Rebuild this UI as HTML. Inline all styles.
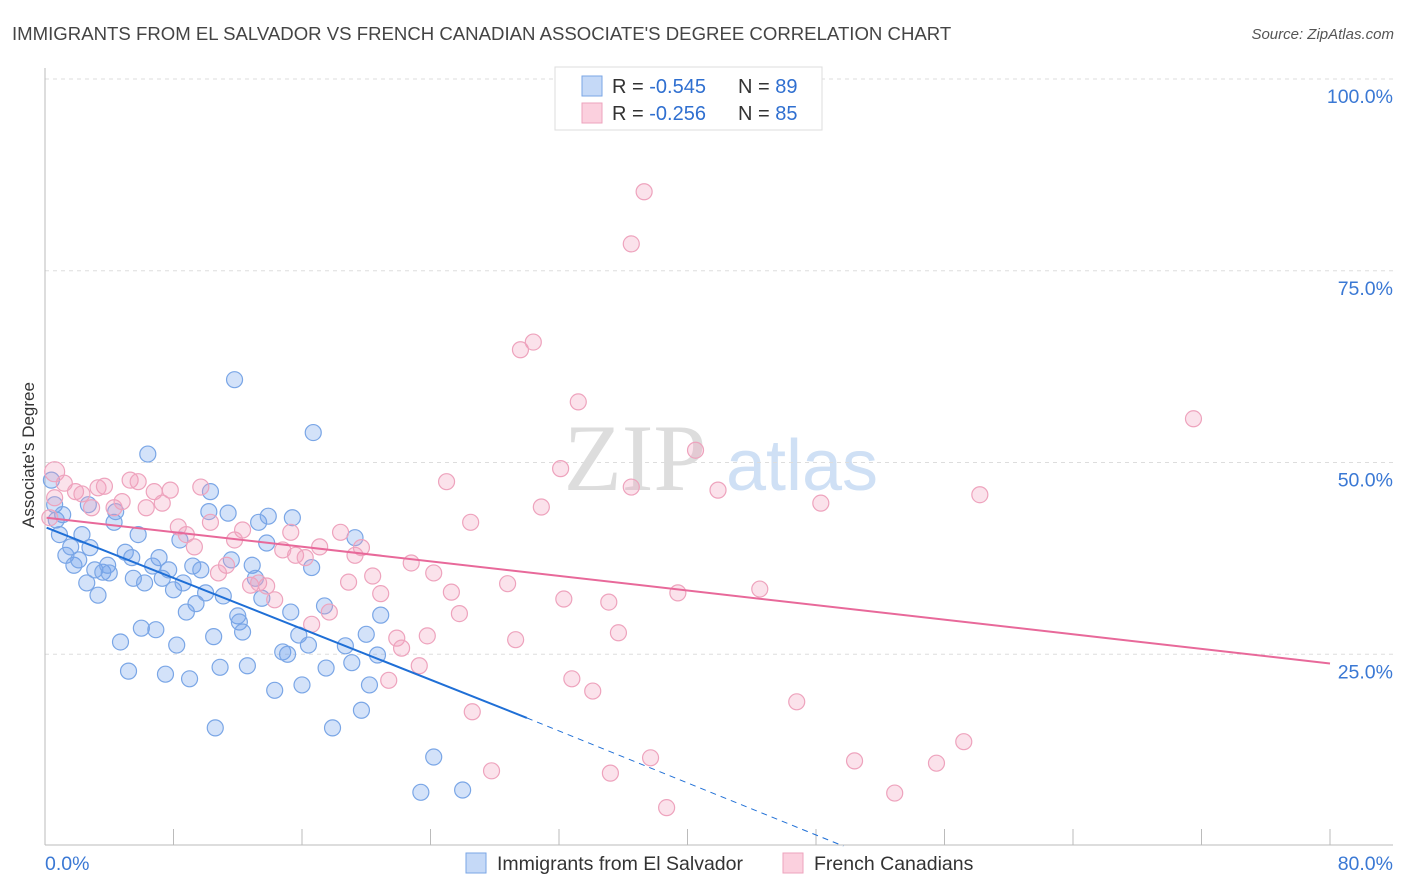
<!DOCTYPE html>
<html><head><meta charset="utf-8"><style>
body{margin:0;background:#fff;font-family:"Liberation Sans",sans-serif}
svg{display:block}
</style></head><body>
<svg id="chart" width="1406" height="892" xmlns="http://www.w3.org/2000/svg">
<text x="12" y="40" font-size="18.6" fill="#444" font-family="Liberation Sans">IMMIGRANTS FROM EL SALVADOR VS FRENCH CANADIAN ASSOCIATE'S DEGREE CORRELATION CHART</text>
<text x="1394" y="39" font-size="15" fill="#555" text-anchor="end" font-style="italic">Source: ZipAtlas.com</text>
<g>
<text x="635" y="490" font-size="95" fill="#ddd" font-family="Liberation Serif" text-anchor="middle">ZIP</text>
<text x="802" y="490" font-size="72" fill="#cfe0f5" text-anchor="middle">atlas</text>
</g>
<g id="grid"></g>
<g id="axes"></g>
<g id="marks"></g>
<text transform="translate(34,455) rotate(-90)" font-size="17" fill="#333" text-anchor="middle">Associate's Degree</text>
<g>
<rect x="555" y="67" width="267" height="63" fill="#fff" stroke="#ddd"/>
<rect x="582" y="76" width="20" height="20" fill="#c5d9f7" stroke="#7aa6e6"/>
<rect x="582" y="103" width="20" height="20" fill="#fbd0de" stroke="#eea3bd"/>
<text x="612" y="93" font-size="20" fill="#333">R = <tspan fill="#2f6fd0">-0.545</tspan></text>
<text x="738" y="93" font-size="20" fill="#333">N = <tspan fill="#2f6fd0">89</tspan></text>
<text x="612" y="120" font-size="20" fill="#333">R = <tspan fill="#2f6fd0">-0.256</tspan></text>
<text x="738" y="120" font-size="20" fill="#333">N = <tspan fill="#2f6fd0">85</tspan></text>
</g>
<g>
<rect x="466" y="853" width="20" height="20" fill="#c5d9f7" stroke="#7aa6e6"/>
<text x="497" y="870" font-size="19.5" fill="#333">Immigrants from El Salvador</text>
<rect x="783" y="853" width="20" height="20" fill="#fbd0de" stroke="#eea3bd"/>
<text x="814" y="870" font-size="19.5" fill="#333">French Canadians</text>
</g>
</svg>
<script>
const yTicks=[25,50,75,100];
const yTickLabels=["25.0%","50.0%","75.0%","100.0%"];
const xTickVals=[0,8,16,24,32,40,48,56,64,72,80];
const blueX=[0.4,0.6,0.7,0.9,1.1,1.3,1.6,1.8,2.1,2.3,2.6,2.8,3.1,3.3,3.6,3.9,4.0,2.7,4.3,4.4,4.7,5.0,5.2,5.4,5.5,5.8,6.0,6.2,6.4,6.7,6.9,7.1,7.3,7.5,7.7,8.0,8.2,8.4,8.6,8.8,9.0,9.2,9.4,9.7,10.0,10.2,10.3,10.5,10.6,10.9,11.1,11.4,11.6,11.8,12.0,12.1,12.3,12.6,12.9,13.1,13.3,13.5,13.8,13.9,14.3,14.8,15.1,15.3,15.4,15.8,16.0,16.4,16.6,16.7,17.4,17.5,17.9,18.7,19.1,19.3,19.7,20.0,20.2,20.7,20.9,24.2,23.4,26.0];
const blueY=[47.7,44.5,42.5,40.6,43.2,37.9,39.0,36.6,37.3,40.6,34.3,38.9,36.0,32.7,35.7,36.6,35.6,44.5,42.2,43.6,26.6,38.3,22.8,37.6,34.9,40.6,28.4,34.3,51.1,36.5,28.2,37.6,34.9,22.4,36.0,33.4,26.2,39.9,34.3,30.5,21.8,36.5,31.6,36.0,33.0,43.6,46.2,27.3,15.4,23.3,32.6,43.4,37.3,60.8,30.0,29.2,27.9,23.5,36.6,34.9,42.2,32.3,39.5,43.0,20.3,25.3,25.0,30.5,42.8,27.5,21.0,26.2,36.3,53.9,31.3,23.2,15.4,26.1,23.9,40.2,17.7,27.6,21.0,24.9,30.1,11.6,7.0,7.3];
const pinkX=[0.6,0.3,0.6,1.2,1.9,2.3,2.9,3.3,3.7,4.3,4.8,5.3,5.8,6.3,6.8,7.3,7.8,8.3,8.8,9.3,9.7,10.3,10.8,11.3,11.8,12.3,12.8,13.3,13.8,14.3,14.8,15.3,15.6,16.2,16.6,17.1,17.7,18.4,18.9,19.3,19.7,20.4,20.9,21.4,21.9,22.2,22.8,23.3,23.8,24.2,25.0,25.3,25.8,26.5,26.6,27.8,28.8,29.3,29.6,30.4,30.9,32.1,32.3,32.8,33.2,34.1,35.1,35.2,35.7,36.5,37.3,36.5,37.7,38.7,39.4,40.5,41.9,44.5,46.8,48.3,50.4,52.9,55.5,57.2,58.2,71.5];
const pinkY=[48.8,42.8,45.4,47.3,46.2,45.9,44.1,46.7,46.9,44.1,44.9,47.7,47.5,44.1,46.2,44.7,46.4,41.6,40.6,39.0,46.8,42.2,35.6,36.6,39.9,41.2,34.0,34.3,33.9,32.1,38.6,40.9,37.9,37.6,28.9,39.0,30.5,40.9,34.4,37.9,38.9,35.2,32.9,21.6,27.1,25.8,36.9,23.5,27.4,35.6,47.5,33.1,30.3,42.2,17.5,9.8,34.2,26.9,64.7,65.7,44.2,49.2,32.2,21.8,57.9,20.2,31.8,9.5,27.8,78.5,85.3,46.8,11.5,5.0,33.0,51.6,46.4,33.5,18.8,44.7,11.1,6.9,10.8,13.6,45.8,55.7];
const blueTrendX=[0.1,30.0];
const blueTrendY=[41.5,16.7];
const blueDashX=[30.0,49.7];
const blueDashY=[16.7,0];
const pinkTrendX=[0.1,80];
const pinkTrendY=[42.8,23.8];

const NS="http://www.w3.org/2000/svg";
const X=v=>45+v/80*1285;
const Y=v=>846-v/100*767;
function mk(tag,attrs,parent){const e=document.createElementNS(NS,tag);for(const k in attrs)e.setAttribute(k,attrs[k]);parent.appendChild(e);return e;}
const grid=document.getElementById('grid'),axes=document.getElementById('axes'),marks=document.getElementById('marks');
yTicks.forEach((t,i)=>{
  const l=mk('line',{x1:45,x2:1393,y1:Y(t),y2:Y(t),stroke:'#ddd','stroke-dasharray':'4,4'},grid);
  
  
  const tx=mk('text',{x:1393,y:Y(t)+24,'font-size':19.5,fill:'#3a78d4','text-anchor':'end'},axes);
  tx.textContent=yTickLabels[i];
  
  
});
const ax=mk('line',{x1:45,x2:1393,y1:845,y2:845,stroke:'#bbb'},axes);


const ay=mk('line',{x1:45,x2:45,y1:68,y2:845,stroke:'#bbb'},axes);


xTickVals.forEach(t=>{
  const l=mk('line',{x1:X(t),x2:X(t),y1:829,y2:845,stroke:'#bbb'},axes);
  
  
});
const x0=mk('text',{x:45,y:870,'font-size':19.5,fill:'#3a78d4'},axes);x0.textContent='0.0%';


const x1=mk('text',{x:1393,y:870,'font-size':19.5,fill:'#3a78d4','text-anchor':'end'},axes);x1.textContent='80.0%';


blueX.forEach((v,i)=>{
  const c=mk('circle',{cx:X(v),cy:Y(blueY[i]),r:8,fill:'rgba(110,160,235,0.3)',stroke:'#7aa6e6','stroke-width':1.2},marks);
  
  
});
pinkX.forEach((v,i)=>{
  const c=mk('circle',{cx:X(v),cy:Y(pinkY[i]),r:(i==0?10:8),fill:'rgba(242,160,190,0.3)',stroke:'#eea3bd','stroke-width':1.2},marks);
  
  
});
const bl=mk('line',{x1:X(blueTrendX[0]),y1:Y(blueTrendY[0]),x2:X(blueTrendX[1]),y2:Y(blueTrendY[1]),stroke:'#1f6fd6','stroke-width':2},marks);


const bd=mk('line',{x1:X(blueDashX[0]),y1:Y(blueDashY[0]),x2:X(blueDashX[1]),y2:Y(blueDashY[1]),stroke:'#1f6fd6','stroke-width':1,'stroke-dasharray':'6,5'},marks);


const pl=mk('line',{x1:X(pinkTrendX[0]),y1:Y(pinkTrendY[0]),x2:X(pinkTrendX[1]),y2:Y(pinkTrendY[1]),stroke:'#e8699a','stroke-width':2},marks);


</script>
</body></html>
